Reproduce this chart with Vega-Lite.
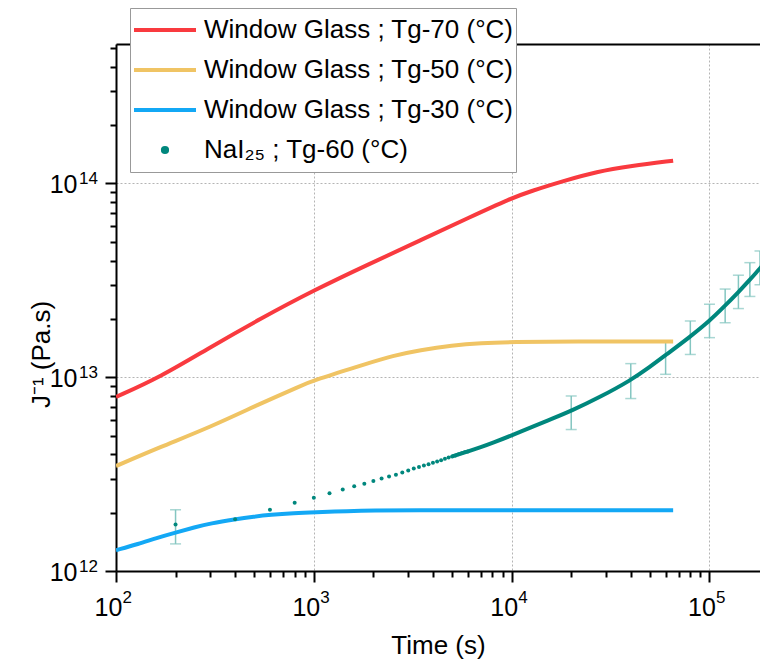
{
  "$schema": "https://vega.github.io/schema/vega-lite/v6.json",
  "width": 644,
  "height": 527,
  "autosize": {"type": "none"},
  "padding": {"left": 116, "top": 44, "right": 0, "bottom": 93},
  "background": "white",
  "config": {
    "view": {"stroke": null},
    "font": "Liberation Sans",
    "axis": {"domainColor": "#000", "tickColor": "#000", "labelColor": "#000", "titleColor": "#000", "labelFont": "Liberation Sans", "titleFont": "Liberation Sans", "titleFontWeight": "normal", "labelFlush": false, "labelOverlap": false}
  },
  "datasets": {
    "glass": [
      {"series": "Window Glass ; Tg-70 (°C)", "t": 100, "J": 7.91e12},
      {"series": "Window Glass ; Tg-70 (°C)", "t": 167, "J": 1.0e13},
      {"series": "Window Glass ; Tg-70 (°C)", "t": 300, "J": 1.43e13},
      {"series": "Window Glass ; Tg-70 (°C)", "t": 535, "J": 2.0e13},
      {"series": "Window Glass ; Tg-70 (°C)", "t": 1000, "J": 2.81e13},
      {"series": "Window Glass ; Tg-70 (°C)", "t": 1928, "J": 3.86e13},
      {"series": "Window Glass ; Tg-70 (°C)", "t": 3450, "J": 5.08e13},
      {"series": "Window Glass ; Tg-70 (°C)", "t": 6170, "J": 6.71e13},
      {"series": "Window Glass ; Tg-70 (°C)", "t": 10000, "J": 8.4e13},
      {"series": "Window Glass ; Tg-70 (°C)", "t": 12400, "J": 9.1e13},
      {"series": "Window Glass ; Tg-70 (°C)", "t": 18300, "J": 1.03e14},
      {"series": "Window Glass ; Tg-70 (°C)", "t": 26900, "J": 1.15e14},
      {"series": "Window Glass ; Tg-70 (°C)", "t": 40000, "J": 1.23e14},
      {"series": "Window Glass ; Tg-70 (°C)", "t": 65500, "J": 1.31e14},
      {"series": "Window Glass ; Tg-50 (°C)", "t": 100, "J": 3.48e12},
      {"series": "Window Glass ; Tg-50 (°C)", "t": 167, "J": 4.36e12},
      {"series": "Window Glass ; Tg-50 (°C)", "t": 300, "J": 5.53e12},
      {"series": "Window Glass ; Tg-50 (°C)", "t": 535, "J": 7.3e12},
      {"series": "Window Glass ; Tg-50 (°C)", "t": 853, "J": 9.0e12},
      {"series": "Window Glass ; Tg-50 (°C)", "t": 1000, "J": 9.64e12},
      {"series": "Window Glass ; Tg-50 (°C)", "t": 1854, "J": 1.175e13},
      {"series": "Window Glass ; Tg-50 (°C)", "t": 2500, "J": 1.29e13},
      {"series": "Window Glass ; Tg-50 (°C)", "t": 3450, "J": 1.38e13},
      {"series": "Window Glass ; Tg-50 (°C)", "t": 5000, "J": 1.46e13},
      {"series": "Window Glass ; Tg-50 (°C)", "t": 7000, "J": 1.50e13},
      {"series": "Window Glass ; Tg-50 (°C)", "t": 10000, "J": 1.52e13},
      {"series": "Window Glass ; Tg-50 (°C)", "t": 20000, "J": 1.53e13},
      {"series": "Window Glass ; Tg-50 (°C)", "t": 65500, "J": 1.53e13},
      {"series": "Window Glass ; Tg-30 (°C)", "t": 100, "J": 1.28e12},
      {"series": "Window Glass ; Tg-30 (°C)", "t": 130, "J": 1.38e12},
      {"series": "Window Glass ; Tg-30 (°C)", "t": 160, "J": 1.48e12},
      {"series": "Window Glass ; Tg-30 (°C)", "t": 200, "J": 1.58e12},
      {"series": "Window Glass ; Tg-30 (°C)", "t": 250, "J": 1.68e12},
      {"series": "Window Glass ; Tg-30 (°C)", "t": 300, "J": 1.76e12},
      {"series": "Window Glass ; Tg-30 (°C)", "t": 400, "J": 1.85e12},
      {"series": "Window Glass ; Tg-30 (°C)", "t": 500, "J": 1.91e12},
      {"series": "Window Glass ; Tg-30 (°C)", "t": 600, "J": 1.95e12},
      {"series": "Window Glass ; Tg-30 (°C)", "t": 800, "J": 1.99e12},
      {"series": "Window Glass ; Tg-30 (°C)", "t": 1000, "J": 2.01e12},
      {"series": "Window Glass ; Tg-30 (°C)", "t": 1500, "J": 2.04e12},
      {"series": "Window Glass ; Tg-30 (°C)", "t": 2000, "J": 2.05e12},
      {"series": "Window Glass ; Tg-30 (°C)", "t": 3000, "J": 2.06e12},
      {"series": "Window Glass ; Tg-30 (°C)", "t": 10000, "J": 2.06e12},
      {"series": "Window Glass ; Tg-30 (°C)", "t": 65500, "J": 2.06e12}
    ],
    "nai_pts": [
      {"t": 200, "J": 1.74e12}, {"t": 400, "J": 1.85e12}, {"t": 600, "J": 2.07e12}, {"t": 800, "J": 2.25e12},
      {"t": 1000, "J": 2.39e12}, {"t": 1200, "J": 2.52e12}, {"t": 1400, "J": 2.63e12}, {"t": 1600, "J": 2.74e12},
      {"t": 1800, "J": 2.82e12}, {"t": 2000, "J": 2.91e12}, {"t": 2200, "J": 3.00e12}, {"t": 2400, "J": 3.07e12},
      {"t": 2600, "J": 3.14e12}, {"t": 2800, "J": 3.22e12}, {"t": 3000, "J": 3.30e12}, {"t": 3200, "J": 3.38e12},
      {"t": 3400, "J": 3.44e12}, {"t": 3600, "J": 3.50e12}, {"t": 3800, "J": 3.56e12}, {"t": 4000, "J": 3.62e12},
      {"t": 4200, "J": 3.67e12}, {"t": 4400, "J": 3.73e12}, {"t": 4600, "J": 3.79e12}, {"t": 4800, "J": 3.85e12},
      {"t": 5000, "J": 3.90e12}, {"t": 5200, "J": 3.95e12}, {"t": 5400, "J": 4.00e12}, {"t": 5600, "J": 4.05e12},
      {"t": 5800, "J": 4.10e12}, {"t": 6000, "J": 4.14e12}
    ],
    "nai_curve": [
      {"t": 5000, "J": 3.90e12}, {"t": 6000, "J": 4.14e12}, {"t": 7000, "J": 4.36e12}, {"t": 8000, "J": 4.58e12},
      {"t": 10000, "J": 5.01e12}, {"t": 13000, "J": 5.6e12}, {"t": 16000, "J": 6.1e12}, {"t": 20000, "J": 6.7e12},
      {"t": 28000, "J": 7.9e12}, {"t": 40000, "J": 9.64e12}, {"t": 50000, "J": 1.13e13}, {"t": 60000, "J": 1.3e13},
      {"t": 80000, "J": 1.62e13}, {"t": 100000, "J": 1.95e13}, {"t": 120000, "J": 2.34e13}, {"t": 140000, "J": 2.75e13},
      {"t": 160000, "J": 3.18e13}, {"t": 180000, "J": 3.65e13}, {"t": 200000, "J": 4.1e13}
    ],
    "nai_err": [
      {"t": 200, "lo": 1.38e12, "hi": 2.07e12},
      {"t": 20000, "lo": 5.37e12, "hi": 8.0e12},
      {"t": 40000, "lo": 7.76e12, "hi": 1.175e13},
      {"t": 60000, "lo": 1.035e13, "hi": 1.54e13},
      {"t": 80000, "lo": 1.31e13, "hi": 1.95e13},
      {"t": 100000, "lo": 1.60e13, "hi": 2.38e13},
      {"t": 120000, "lo": 1.91e13, "hi": 2.85e13},
      {"t": 140000, "lo": 2.26e13, "hi": 3.36e13},
      {"t": 160000, "lo": 2.61e13, "hi": 3.90e13},
      {"t": 180000, "lo": 3.0e13, "hi": 4.48e13}
    ]
  },
  "layer": [
    {
      "data": {"name": "nai_err"},
      "mark": {"type": "rule", "color": "#84C6C1", "strokeWidth": 1.5, "clip": true},
      "encoding": {
        "x": {"field": "t", "type": "quantitative", "scale": {"type": "log", "domain": [100, 180000], "nice": false},
          "axis": {"orient": "bottom", "values": [200, 300, 400, 500, 600, 700, 800, 900, 2000, 3000, 4000, 5000, 6000, 7000, 8000, 9000, 20000, 30000, 40000, 50000, 60000, 70000, 80000, 90000], "labels": false, "tickSize": 6, "tickWidth": 2, "domain": false, "grid": false, "title": null}},
        "y": {"field": "lo", "type": "quantitative", "scale": {"type": "log", "domain": [1e12, 5.24e14], "nice": false},
          "axis": {"orient": "left", "values": [2e12, 3e12, 4e12, 5e12, 6e12, 7e12, 8e12, 9e12, 2e13, 3e13, 4e13, 5e13, 6e13, 7e13, 8e13, 9e13, 2e14, 3e14, 4e14, 5e14], "labels": false, "tickSize": 6, "tickWidth": 2, "domain": false, "grid": false, "title": null}},
        "y2": {"field": "hi"}
      }
    },
    {
      "data": {"name": "nai_err"},
      "mark": {"type": "tick", "orient": "horizontal", "size": 11, "thickness": 1.5, "color": "#84C6C1", "clip": true},
      "encoding": {
        "x": {"field": "t", "type": "quantitative", "scale": {"type": "log", "domain": [100, 180000], "nice": false},
          "axis": {"orient": "bottom", "values": [100, 1000, 10000, 100000], "labelExpr": "datum.value < 500 ? '2' : datum.value < 5000 ? '3' : datum.value < 50000 ? '4' : '5'", "labelFontSize": 17, "labelAlign": "left", "labelOffset": 6, "labelBaseline": "alphabetic", "labelPadding": 20, "tickSize": 11, "tickOpacity": 0, "domain": false, "grid": false, "title": null}},
        "y": {"field": "lo", "type": "quantitative", "scale": {"type": "log", "domain": [1e12, 5.24e14], "nice": false},
          "axis": {"orient": "left", "values": [1e12, 1e13, 1e14], "labelExpr": "datum.value < 5e12 ? '12' : datum.value < 5e13 ? '13' : '14'", "labelFontSize": 17, "labelAlign": "right", "labelBaseline": "alphabetic", "labelOffset": 0, "labelPadding": 7.5, "tickSize": 11, "tickOpacity": 0, "domain": false, "grid": false, "title": null}}
      }
    },
    {
      "data": {"name": "nai_err"},
      "mark": {"type": "tick", "orient": "horizontal", "size": 11, "thickness": 1.5, "color": "#84C6C1", "clip": true},
      "encoding": {
        "x": {"field": "t", "type": "quantitative", "scale": {"type": "log", "domain": [100, 180000], "nice": false}, "axis": null},
        "y": {"field": "hi", "type": "quantitative", "scale": {"type": "log", "domain": [1e12, 5.24e14], "nice": false}, "axis": null}
      }
    },
    {
      "data": {"name": "glass"},
      "mark": {"type": "line", "strokeWidth": 4, "interpolate": "basis", "clip": true},
      "encoding": {
        "x": {"field": "t", "type": "quantitative", "scale": {"type": "log", "domain": [100, 180000], "nice": false},
          "axis": {"orient": "bottom", "values": [100, 1000, 10000, 100000], "labelExpr": "'10'", "labelFontSize": 25, "labelAlign": "center", "labelOffset": -8, "labelBaseline": "alphabetic", "labelPadding": 33, "tickSize": 11, "tickWidth": 2, "domainWidth": 2, "grid": true, "gridColor": "#b4b4b4", "gridDash": [2, 2], "gridWidth": 1, "title": "Time (s)", "titleFontSize": 26, "titleY": 82, "titleBaseline": "alphabetic"}},
        "y": {"field": "J", "type": "quantitative", "scale": {"type": "log", "domain": [1e12, 5.24e14], "nice": false},
          "axis": {"orient": "left", "values": [1e12, 1e13, 1e14], "labelExpr": "'10'", "labelFontSize": 25, "labelAlign": "right", "labelBaseline": "alphabetic", "labelOffset": 9, "labelPadding": 28, "tickSize": 11, "tickWidth": 2, "domainWidth": 2, "grid": true, "gridColor": "#b4b4b4", "gridDash": [2, 2], "gridWidth": 1, "title": "J⁻¹ (Pa.s)", "titleFontSize": 26, "titleAngle": -90, "titleX": -67, "titleY": 310, "titleBaseline": "alphabetic"}},
        "color": {"field": "series", "type": "nominal",
          "scale": {"domain": ["Window Glass ; Tg-70 (°C)", "Window Glass ; Tg-50 (°C)", "Window Glass ; Tg-30 (°C)", "NaI₂₅ ; Tg-60 (°C)"], "range": ["#F93A3F", "#F0C464", "#13A8F5", "#00877D"]},
          "legend": {"orient": "none", "legendX": 14, "legendY": -36, "title": null, "labelFontSize": 26, "labelFont": "Liberation Sans", "labelLimit": 600, "labelColor": "#000", "symbolType": "stroke", "symbolSize": 3844, "symbolStrokeWidth": 4, "clipHeight": 40, "rowPadding": 0, "padding": 2, "labelOffset": 6, "symbolOffset": 0, "strokeColor": "#999999", "fillColor": "white",
            "encode": {"symbols": {"update": {
              "shape": {"signal": "datum.index === 3 ? 'circle' : 'stroke'"},
              "size": {"signal": "datum.index === 3 ? 18 : 3844"},
              "fill": {"signal": "datum.index === 3 ? scale('color', datum.value) : 'transparent'"},
              "stroke": {"signal": "datum.index === 3 ? 'transparent' : scale('color', datum.value)"},
              "strokeWidth": {"value": 4},
              "opacity": {"value": 1}
            }}}}
        }
      }
    },
    {
      "data": {"name": "nai_curve"},
      "mark": {"type": "line", "strokeWidth": 4, "interpolate": "basis", "color": "#00877D", "clip": true},
      "encoding": {
        "x": {"field": "t", "type": "quantitative", "scale": {"type": "log", "domain": [100, 180000], "nice": false}, "axis": null},
        "y": {"field": "J", "type": "quantitative", "scale": {"type": "log", "domain": [1e12, 5.24e14], "nice": false}, "axis": null}
      }
    },
    {
      "data": {"name": "nai_pts"},
      "mark": {"type": "point", "filled": true, "size": 16, "opacity": 1, "color": "#00877D", "clip": true},
      "encoding": {
        "x": {"field": "t", "type": "quantitative", "scale": {"type": "log", "domain": [100, 180000], "nice": false},
          "axis": {"orient": "top", "labels": false, "ticks": false, "grid": false, "domain": true, "domainWidth": 2, "title": null}},
        "y": {"field": "J", "type": "quantitative", "scale": {"type": "log", "domain": [1e12, 5.24e14], "nice": false}, "axis": null}
      }
    }
  ],
  "resolve": {"axis": {"x": "independent", "y": "independent"}}
}
